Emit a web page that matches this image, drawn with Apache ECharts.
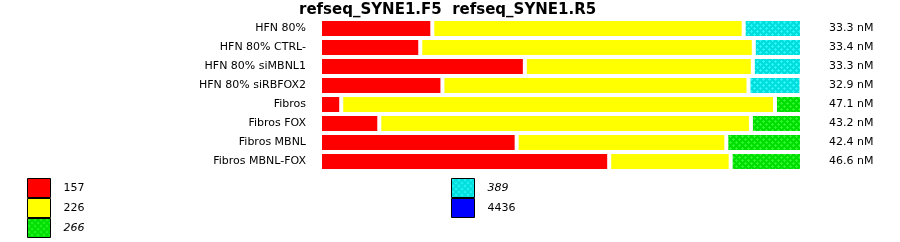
<!DOCTYPE html>
<html><head><meta charset="utf-8">
<script src="https://cdn.jsdelivr.net/npm/echarts@6/dist/echarts.min.js"></script>
<style>html,body{margin:0;padding:0;background:#fff}#c{width:900px;height:242px}</style>
</head><body><div id="c"></div>
<script>
const titleText = 'refseq_SYNE1.F5  refseq_SYNE1.R5';
const categories = ['HFN 80%','HFN 80% CTRL-','HFN 80% siMBNL1','HFN 80% siRBFOX2','Fibros','Fibros FOX','Fibros MBNL','Fibros MBNL-FOX'];
const concLabels = ['33.3 nM','33.4 nM','33.3 nM','32.9 nM','47.1 nM','43.2 nM','42.4 nM','46.6 nM'];
const seriesNames = ['157','226','266','389','4436'];
const s157 = [23.3, 20.8, 42.5, 25.4, 4.4, 12.3, 40.8, 60.0];
const s226 = [64.6, 69.2, 47.3, 63.5, 90.0, 77.1, 43.5, 25.2];
const s266 = [0, 0, 0, 0, 5.6, 10.6, 15.7, 14.8];
const s389 = [12.1, 10.0, 10.2, 11.0, 0, 0, 0, 0];
const s4436 = [0, 0, 0, 0, 0, 0, 0, 0];

function pattern(base, dot){
  const c = document.createElement('canvas'); c.width = 6; c.height = 6;
  const g = c.getContext('2d');
  g.fillStyle = base; g.fillRect(0,0,6,6);
  g.fillStyle = dot;
  [[1,1],[4,4]].forEach(([x,y])=>{
    g.fillRect(x-1,y,3,1); g.fillRect(x,y-1,1,3);
  });
  return {image: c, repeat: 'repeat'};
}
const colors = {
  '157': '#ff0000',
  '226': '#ffff00',
  '266': pattern('#00dd00', '#2cf52c'),
  '389': pattern('#00dddd', '#2cf5f5'),
  '4436': '#0000ff'
};
const values = {'157': s157, '226': s226, '266': s266, '389': s389, '4436': s4436};

const chart = echarts.init(document.getElementById('c'), null, {renderer:'canvas'});
const font = 'DejaVu Sans';
const legendBase = {orient: 'vertical', top: 178, height: 64, padding: 0,
  itemWidth: 23, itemHeight: 19, itemGap: 0, icon: 'rect', selectedMode: false,
  itemStyle: {borderColor: '#000', borderWidth: 1},
  textStyle: {fontFamily: font, fontSize: 11, color: '#000', padding: [0,0,0,8]}};
chart.setOption({
  animation: false,
  title: {text: titleText, left: 299, top: 0, padding: [3,0,0,0],
    textStyle: {fontFamily: font, fontSize: 15, fontWeight: 'bold', color: '#000'}},
  grid: {left: 320, right: 98, top: 19, height: 152, containLabel: false},
  xAxis: {type: 'value', min: 0, max: 100, show: false},
  yAxis: [
    {type: 'category', data: categories, inverse: true,
     axisLine: {show: false}, axisTick: {show: false}, splitLine: {show: false},
     axisLabel: {margin: 14, fontFamily: font, fontSize: 11, color: '#000'}},
    {type: 'category', data: concLabels, inverse: true, position: 'right',
     axisLine: {show: false}, axisTick: {show: false}, splitLine: {show: false},
     axisLabel: {margin: 27, fontFamily: font, fontSize: 11, color: '#000'}}
  ],
  legend: [
    Object.assign({}, legendBase, {left: 27,
     data: [{name: '157'}, {name: '226'}, {name: '266', textStyle: {fontStyle: 'italic'}}]}),
    Object.assign({}, legendBase, {left: 451,
     data: [{name: '389', textStyle: {fontStyle: 'italic'}}, {name: '4436'}]})
  ],
  series: seriesNames.map(n => ({
    name: n, type: 'bar', stack: 'all', barWidth: 19,
    data: values[n],
    itemStyle: {color: colors[n], borderColor: '#fff', borderWidth: 2},
    emphasis: {disabled: true}
  }))
});
</script></body></html>
